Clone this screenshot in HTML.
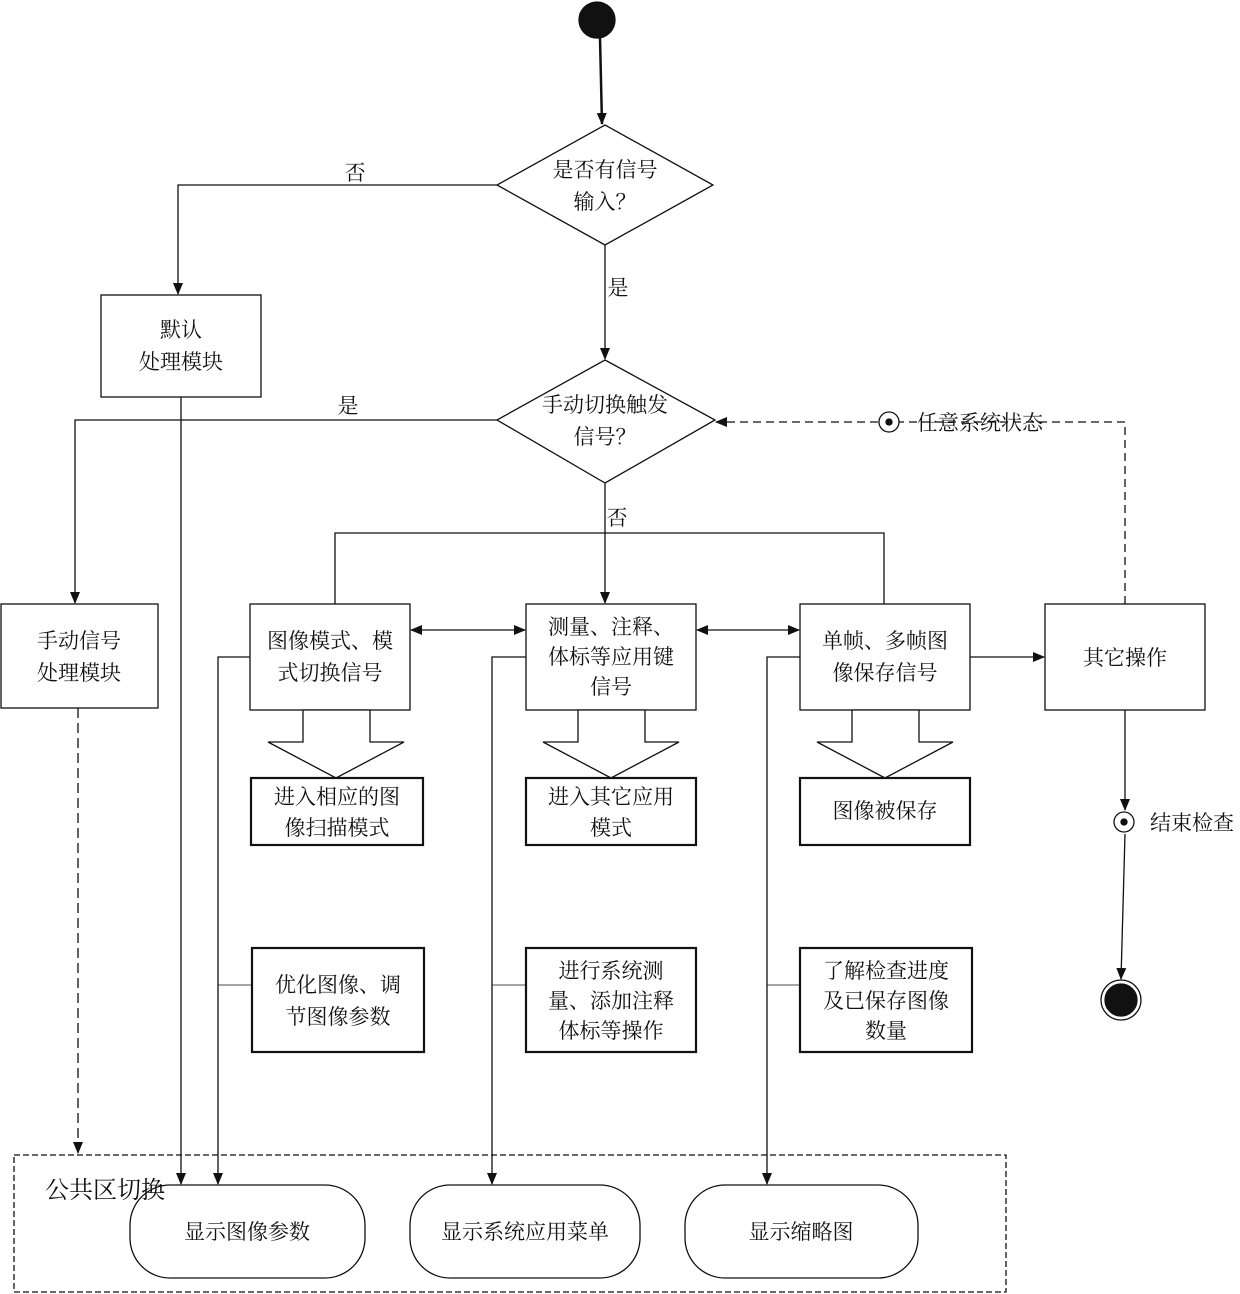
<!DOCTYPE html>
<html><head><meta charset="utf-8"><style>
html,body{margin:0;padding:0;background:#fff;}
svg{display:block;font-family:"Liberation Serif","Noto Serif CJK SC","Noto Sans CJK SC",serif;}
text{font-size:21px;fill:#111;text-anchor:middle;}
</style></head><body>
<svg width="1240" height="1294" viewBox="0 0 1240 1294">
<defs>
<marker id="a" markerWidth="12" markerHeight="10" refX="11" refY="5" orient="auto" markerUnits="userSpaceOnUse"><path d="M0,0 L12,5 L0,10 z" fill="#111"/></marker>
<marker id="s" markerWidth="12" markerHeight="10" refX="1" refY="5" orient="auto" markerUnits="userSpaceOnUse"><path d="M12,0 L0,5 L12,10 z" fill="#111"/></marker>
</defs>
<g stroke="#111" stroke-width="1.3" fill="none">
<circle cx="597" cy="20" r="18" fill="#111"/>
<line x1="600" y1="38" x2="602" y2="124" stroke-width="2.5" marker-end="url(#a)"/>
<polygon points="605,125 713,185 605,245 497,185" fill="#fff"/>
<polyline points="497,185 178,185 178,294" marker-end="url(#a)"/>
<rect x="101" y="295" width="160" height="102"/>
<line x1="181" y1="397" x2="181" y2="1184" marker-end="url(#a)"/>
<line x1="605" y1="245" x2="605" y2="359" marker-end="url(#a)"/>
<polygon points="605,360 715,420 605,483 497,420" fill="#fff"/>
<polyline points="497,420 75,420 75,603" marker-end="url(#a)"/>
<rect x="1" y="604" width="157" height="104"/>
<line x1="78" y1="708" x2="78" y2="1153" stroke-dasharray="10,5" marker-end="url(#a)"/>
<polyline points="1125,604 1125,422 716,422" stroke-dasharray="8,5" marker-end="url(#a)"/>
<line x1="605" y1="483" x2="605" y2="603" marker-end="url(#a)"/>
<polyline points="335,604 335,533 884,533 884,604"/>
<rect x="250" y="604" width="160" height="106"/>
<rect x="526" y="604" width="170" height="106"/>
<rect x="800" y="604" width="170" height="106"/>
<rect x="1045" y="604" width="160" height="106"/>
<line x1="411" y1="630" x2="525" y2="630" marker-start="url(#s)" marker-end="url(#a)"/>
<line x1="697" y1="630" x2="799" y2="630" marker-start="url(#s)" marker-end="url(#a)"/>
<line x1="970" y1="657" x2="1044" y2="657" marker-end="url(#a)"/>
<polygon points="303,710 303,742 268,742 336,778 404,742 370,742 370,710" fill="#fff"/>
<polygon points="578,710 578,742 543,742 611,778 679,742 645,742 645,710" fill="#fff"/>
<polygon points="852,710 852,742 817,742 885,778 953,742 919,742 919,710" fill="#fff"/>
<g stroke-width="2.2">
<rect x="251" y="778" width="172" height="67"/>
<rect x="526" y="778" width="170" height="67"/>
<rect x="800" y="778" width="170" height="67"/>
<rect x="252" y="948" width="172" height="104"/>
<rect x="526" y="948" width="170" height="104"/>
<rect x="800" y="948" width="172" height="104"/>
</g>
<polyline points="250,657 218,657 218,1184" marker-end="url(#a)"/>
<polyline points="526,657 492,657 492,1184" marker-end="url(#a)"/>
<polyline points="800,657 767,657 767,1184" marker-end="url(#a)"/>
<line x1="218" y1="985" x2="252" y2="985" stroke-width="0.8"/>
<line x1="492" y1="985" x2="526" y2="985" stroke-width="0.8"/>
<line x1="767" y1="985" x2="800" y2="985" stroke-width="0.8"/>
<line x1="1125" y1="710" x2="1125" y2="810" marker-end="url(#a)"/>
<line x1="1125" y1="834" x2="1121" y2="979" marker-end="url(#a)"/>
<circle cx="1124" cy="822" r="10"/>
<circle cx="1124" cy="822" r="3" fill="#111"/>
<circle cx="889" cy="422" r="10" fill="#fff"/>
<circle cx="889" cy="422" r="3" fill="#111"/>
<circle cx="1121" cy="1000" r="20"/>
<circle cx="1121" cy="1000" r="16" fill="#111"/>
<rect x="14" y="1155" width="992" height="137" stroke-dasharray="6,3"/>
<rect x="130" y="1185" width="235" height="93" rx="40"/>
<rect x="410" y="1185" width="230" height="93" rx="40"/>
<rect x="685" y="1185" width="233" height="93" rx="40"/>
</g>
<text x="605" y="177">是否有信号</text>
<text x="605" y="209">输入？</text>
<text x="355" y="180">否</text>
<text x="181" y="337">默认</text>
<text x="181" y="369">处理模块</text>
<text x="618" y="295">是</text>
<text x="605" y="412">手动切换触发</text>
<text x="605" y="444">信号？</text>
<text x="348" y="413">是</text>
<text x="617" y="525">否</text>
<rect x="876" y="410" width="0" height="0"/>
<text x="980" y="430">任意系统状态</text>
<text x="79" y="648">手动信号</text>
<text x="79" y="680">处理模块</text>
<text x="330" y="648">图像模式、模</text>
<text x="330" y="680">式切换信号</text>
<text x="611" y="634">测量、注释、</text>
<text x="611" y="664">体标等应用键</text>
<text x="611" y="694">信号</text>
<text x="885" y="648">单帧、多帧图</text>
<text x="885" y="680">像保存信号</text>
<text x="1125" y="665">其它操作</text>
<text x="337" y="804">进入相应的图</text>
<text x="337" y="835">像扫描模式</text>
<text x="611" y="804">进入其它应用</text>
<text x="611" y="835">模式</text>
<text x="885" y="818">图像被保存</text>
<text x="338" y="992">优化图像、调</text>
<text x="338" y="1024">节图像参数</text>
<text x="611" y="978">进行系统测</text>
<text x="611" y="1008">量、添加注释</text>
<text x="611" y="1038">体标等操作</text>
<text x="886" y="978">了解检查进度</text>
<text x="886" y="1008">及已保存图像</text>
<text x="886" y="1038">数量</text>
<text x="1192" y="830">结束检查</text>
<text x="105" y="1198" style="font-size:24px">公共区切换</text>
<text x="247" y="1239">显示图像参数</text>
<text x="525" y="1239">显示系统应用菜单</text>
<text x="801" y="1239">显示缩略图</text>
</svg>
</body></html>
